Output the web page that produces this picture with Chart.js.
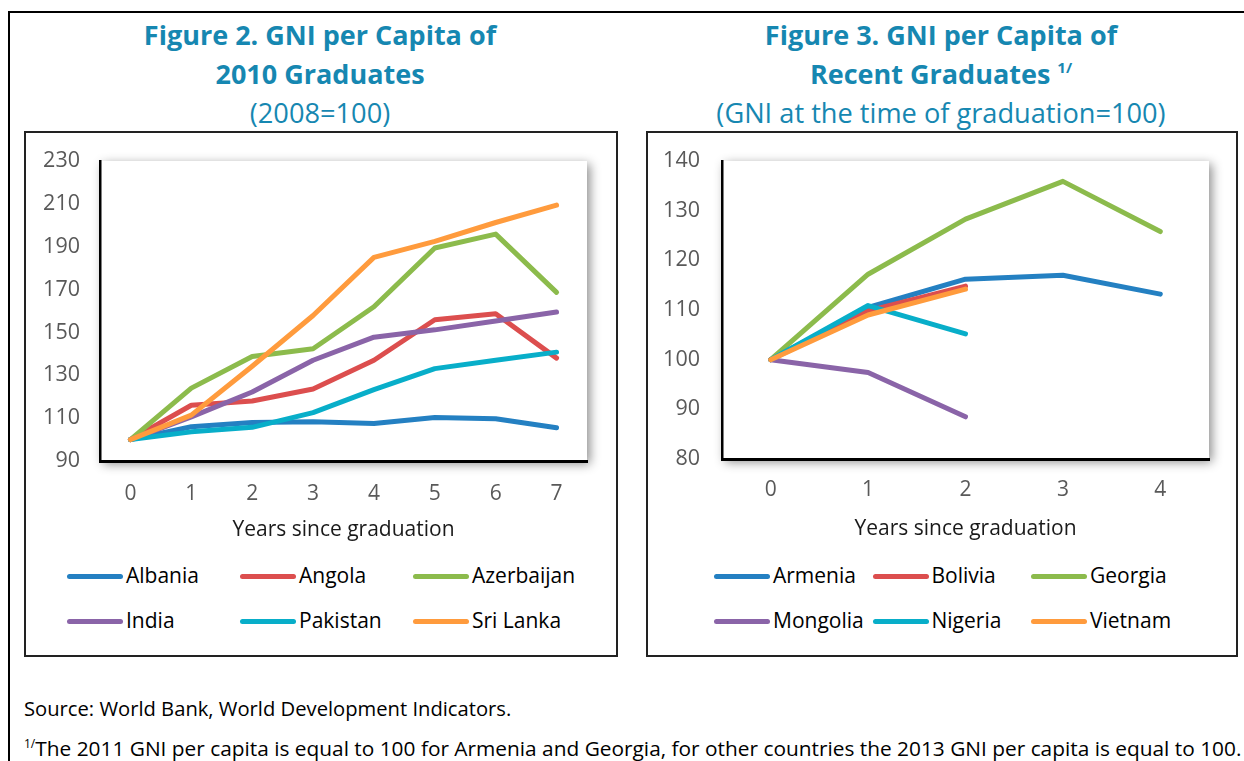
<!DOCTYPE html>
<html>
<head>
<meta charset="utf-8">
<script src="https://cdn.jsdelivr.net/npm/chart.js@4"></script>
<style>
  body { margin: 0; background: #fff; font-family: "Open Sans", sans-serif; }
  #page { position: relative; width: 1244px; height: 761px; overflow: hidden; }
  .frame-top { position: absolute; left: 9px; top: 11px; width: 1240px; height: 2px; background: #000; }
  .frame-left { position: absolute; left: 8px; top: 11px; width: 2px; height: 760px; background: #000; }
  .box { position: absolute; top: 131px; height: 522px; border: 2px solid #222; }
  .title { position: absolute; width: 600px; text-align: center; color: #1687b1; }
  .title .t { font-weight: bold; font-size: 27px; line-height: 39px; height: 39px; }
  .title .s { font-size: 27.2px; line-height: 39px; }
  .title sup { font-size: 15px; line-height: 0; vertical-align: baseline; position: relative; top: -11px; }
  canvas { position: absolute; }
  .leg { position: absolute; font-size: 21px; color: #000; white-space: nowrap; line-height: 24px; }
  .leg i { display: inline-block; width: 56px; height: 5px; border-radius: 3px; vertical-align: middle; margin-right: 3px; position: relative; top: -1px; }
  .note { position: absolute; left: 24px; color: #000; white-space: nowrap; }
  .note sup { font-size: 12px; line-height: 0; vertical-align: baseline; position: relative; top: -8px; }
</style>
</head>
<body>
<div id="page">
  <div class="frame-top"></div>
  <div class="frame-left"></div>

  <div class="title" style="left:20px; top:15px;">
    <div class="t">Figure 2. GNI per Capita of</div>
    <div class="t">2010 Graduates</div>
    <div class="s">(2008=100)</div>
  </div>
  <div class="title" style="left:641px; top:15px;">
    <div class="t">Figure 3. GNI per Capita of</div>
    <div class="t">Recent Graduates <sup>1/</sup></div>
    <div class="s">(GNI at the time of graduation=100)</div>
  </div>

  <div class="box" style="left:24px; width:590px;"></div>
  <div class="box" style="left:646px; width:588px;"></div>

  <canvas id="chart2" width="590" height="420" style="left:26px; top:133px; width:590px; height:420px;"></canvas>
  <canvas id="chart3" width="588" height="420" style="left:648px; top:133px; width:588px; height:420px;"></canvas>

  <div id="legend2"></div>
  <div id="legend3"></div>

  <div class="note" style="top:694px; font-size:20.2px;">Source: World Bank, World Development Indicators.</div>
  <div class="note" style="top:734px; font-size:20.85px;"><sup>1/</sup>The 2011 GNI per capita is equal to 100 for Armenia and Georgia, for other countries the 2013 GNI per capita is equal to 100.</div>
</div>

<script>
// Figure 2 data (2008 = 100), years since graduation 0..7
var years2 = ['0', '1', '2', '3', '4', '5', '6', '7'];
var albania    = [100, 106, 108, 108.3, 107.5, 110.3, 109.7, 105.5];
var angola     = [100, 116, 118, 123.6, 137, 155.9, 158.7, 138];
var azerbaijan = [100, 124, 138.8, 142.4, 162, 189.4, 195.9, 168.7];
var india      = [100, 110.6, 122.2, 137, 147.8, 151.2, 155.3, 159.5];
var pakistan   = [100, 103.6, 105.7, 112.6, 123.3, 133.1, 137, 140.8];
var sriLanka   = [100, 111.4, 134.2, 157.9, 185, 192.5, 201.3, 209.4];

// Figure 3 data (GNI at graduation = 100), years 0..4
var years3 = ['0', '1', '2', '3', '4'];
var armenia  = [100, 110.5, 116.2, 117, 113.2];
var bolivia  = [100, 109.8, 114.8, null, null];
var georgia  = [100, 117.2, 128.3, 135.9, 125.8];
var mongolia = [100, 97.4, 88.5, null, null];
var nigeria  = [100, 110.9, 105.2, null, null];
var vietnam  = [100, 109, 114.2, null, null];

var colors = ['#2480c2', '#dc4e4e', '#8cbb4c', '#8a64a8', '#08aec9', '#ff9b3d'];

var names2 = ['Albania', 'Angola', 'Azerbaijan', 'India', 'Pakistan', 'Sri Lanka'];
var series2 = [albania, angola, azerbaijan, india, pakistan, sriLanka];
var names3 = ['Armenia', 'Bolivia', 'Georgia', 'Mongolia', 'Nigeria', 'Vietnam'];
var series3 = [armenia, bolivia, georgia, mongolia, nigeria, vietnam];

var ticks2 = { min: 90, max: 230, step: 20 };
var ticks3 = { min: 80, max: 140, step: 10 };

// plot area with soft shadow, like the excel chart
var plotShadow = {
    id: 'plotShadow',
    beforeDraw: function(chart) {
        var a = chart.chartArea;
        var ctx = chart.ctx;
        ctx.save();
        ctx.shadowColor = 'rgba(0,0,0,0.45)';
        ctx.shadowBlur = 10;
        ctx.shadowOffsetX = 3;
        ctx.shadowOffsetY = 3;
        ctx.fillStyle = '#fff';
        ctx.fillRect(a.left, a.top, a.right - a.left, a.bottom - a.top);
        ctx.restore();
    }
};

function buildDatasets(names, series) {
    return names.map(function(name, i) {
        return {
            label: name,
            data: series[i],
            borderColor: colors[i],
            backgroundColor: colors[i],
            borderWidth: 5,
            borderCapStyle: 'round',
            borderJoinStyle: 'round',
            pointRadius: 0,
            tension: 0,
            spanGaps: false,
            order: names.length - i // later series on top
        };
    });
}

function makeChart(id, labels, names, series, t, lay) {
    var ctx = document.getElementById(id).getContext('2d');
    return new Chart(ctx, {
        type: 'line',
        data: { labels: labels, datasets: buildDatasets(names, series) },
        options: {
            responsive: false,
            animation: false,
            layout: { padding: { left: 0, top: lay.top, right: lay.right, bottom: 0 } },
            plugins: { legend: { display: false }, tooltip: { enabled: false } },
            scales: {
                x: {
                    offset: true,
                    grid: { display: false, drawTicks: false },
                    border: { display: true, color: '#000', width: 3 },
                    ticks: { color: '#595959', padding: lay.xPad, font: { family: 'Open Sans', size: 21 } },
                    title: {
                        display: true,
                        text: 'Years since graduation',
                        color: '#1a1a1a',
                        font: { family: 'Open Sans', size: 21 },
                        padding: { top: 0, bottom: lay.titlePad }
                    },
                    afterFit: function(scale) { scale.height = lay.xHeight; }
                },
                y: {
                    min: t.min,
                    max: t.max,
                    grid: { display: false, drawTicks: false },
                    border: { display: true, color: '#000', width: 2.5 },
                    ticks: { stepSize: t.step, color: '#595959', padding: lay.yPad, font: { family: 'Open Sans', size: 21.5 } },
                    afterFit: function(scale) {
                        scale.width = lay.yWidth;
                        scale.paddingTop = 0;
                        scale.paddingBottom = 0;
                    }
                }
            }
        },
        plugins: [plotShadow]
    });
}

function buildLegend(id, names, left, colStep, top) {
    var box = document.getElementById(id);
    names.forEach(function(name, i) {
        var el = document.createElement('div');
        el.className = 'leg';
        el.style.left = (left + (i % 3) * colStep) + 'px';
        el.style.top = (top + Math.floor(i / 3) * 45) + 'px';
        el.innerHTML = '<i style="background:' + colors[i] + '"></i>' + name;
        box.appendChild(el);
    });
}

makeChart('chart2', years2, names2, series2, ticks2,
    { top: 28, right: 29, yWidth: 74, yPad: 20, xHeight: 92, xPad: 20, titlePad: 10 });
makeChart('chart3', years3, names3, series3, ticks3,
    { top: 28, right: 27, yWidth: 74, yPad: 22, xHeight: 94, xPad: 18, titlePad: 11 });

buildLegend('legend2', names2, 67, 173, 563);
buildLegend('legend3', names3, 714, 158.5, 563);
</script>
</body>
</html>
